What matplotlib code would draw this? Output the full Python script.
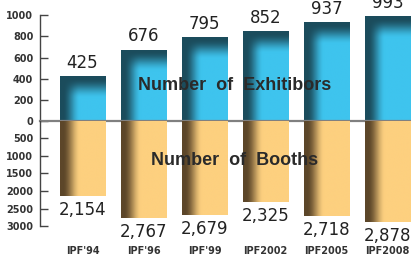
import numpy as np
import matplotlib.pyplot as plt
from matplotlib.colors import to_rgb

fairs = ["IPF'94", "IPF'96", "IPF'99", "IPF2002", "IPF2005", "IPF2008"]
exhibitors = [425, 676, 795, 852, 937, 993]
booths = [2154, 2767, 2679, 2325, 2718, 2878]

top_ticks = [0, 200, 400, 600, 800, 1000]
bot_ticks = [500, 1000, 1500, 2000, 2500, 3000]

fig = plt.figure(figsize=(4.11, 2.56), dpi=100)
ax_top = fig.add_axes([0.0973, 0.528, 0.9027, 0.412])
ax_bot = fig.add_axes([0.0973, 0.117, 0.9027, 0.411])

x = np.arange(len(fairs))
w = 0.74
xlim = (-0.697, 5.385)


def smooth(t):
    t = np.clip(t, 0, 1)
    return t * t * (3 - 2 * t)


def shade(ax, bar, dark, light, band=None):
    # gradient image clipped to the bar: dark on the left (and top, if band)
    x0 = bar.get_x()
    bw = bar.get_width()
    h = bar.get_height()
    u = np.linspace(0, 1, 80)
    yy = np.linspace(0, h, 200)
    tx = smooth((u - 0.06) / 0.38)
    t = np.tile(tx, (len(yy), 1))
    if band is not None:
        d = h - yy
        ty = smooth((d - band[0]) / band[1])
        t = t * ty[:, None]
    dark = np.array(to_rgb(dark))
    light = np.array(to_rgb(light))
    img = dark + (light - dark) * t[..., None]
    im = ax.imshow(img, extent=(x0, x0 + bw, 0, h), origin='lower',
                   aspect='auto', interpolation='bilinear', zorder=2)
    im.set_clip_path(bar)


bars_top = ax_top.bar(x, exhibitors, width=w, color='#3ec4ee', zorder=1)
for b in bars_top:
    shade(ax_top, b, '#1b4c5c', '#3ec4ee', band=(20, 190))

bars_bot = ax_bot.bar(x, booths, width=w, color='#fdd07f', zorder=1)
for b in bars_bot:
    shade(ax_bot, b, '#5c4629', '#fdd07f')

for xi, v in zip(x, exhibitors):
    ax_top.annotate(str(v), (xi, v), xytext=(0, 3), textcoords='offset points',
                    ha='center', va='bottom', fontsize=12, color='#222222',
                    annotation_clip=False)
for xi, v in zip(x, booths):
    ax_bot.annotate(f"{v:,}", (xi, v), xytext=(0, -3.5), textcoords='offset points',
                    ha='center', va='top', fontsize=12, color='#222222',
                    annotation_clip=False)

ax_top.text(2.5, 339, "Number  of  Exhitibors", ha='center', va='center',
            fontsize=13, fontweight='bold', family='Liberation Sans',
            color='#2a2a2a', zorder=6)
ax_bot.text(2.5, 1117, "Number  of  Booths", ha='center', va='center',
            fontsize=13, fontweight='bold', family='Liberation Sans',
            color='#2a2a2a', zorder=6)

ax_top.set_ylim(0, 1000)
ax_bot.set_ylim(3000, 0)
ax_top.set_yticks(top_ticks)
ax_bot.set_yticks(bot_ticks)

for ax in (ax_top, ax_bot):
    ax.set_xlim(*xlim)
    ax.set_facecolor('none')
    for s in ('top', 'right', 'bottom'):
        ax.spines[s].set_visible(False)
    ax.spines['left'].set_color('#444444')
    ax.spines['left'].set_linewidth(1)
    ax.tick_params(axis='y', direction='in', length=6, width=1, color='#444444',
                   pad=4.8, labelsize=7, labelcolor='#333333')
    for lab in ax.get_yticklabels():
        lab.set_fontweight('bold')

ax_top.set_xticks([])
ax_bot.set_xticks(x)
ax_bot.set_xticklabels(fairs, fontsize=7, fontweight='bold', color='#333333')
ax_bot.tick_params(axis='x', length=0, pad=14.5)

ax_top.axhline(0, color='#808080', lw=1.6, zorder=5, clip_on=False)

fig.savefig('out.png', dpi=100)
